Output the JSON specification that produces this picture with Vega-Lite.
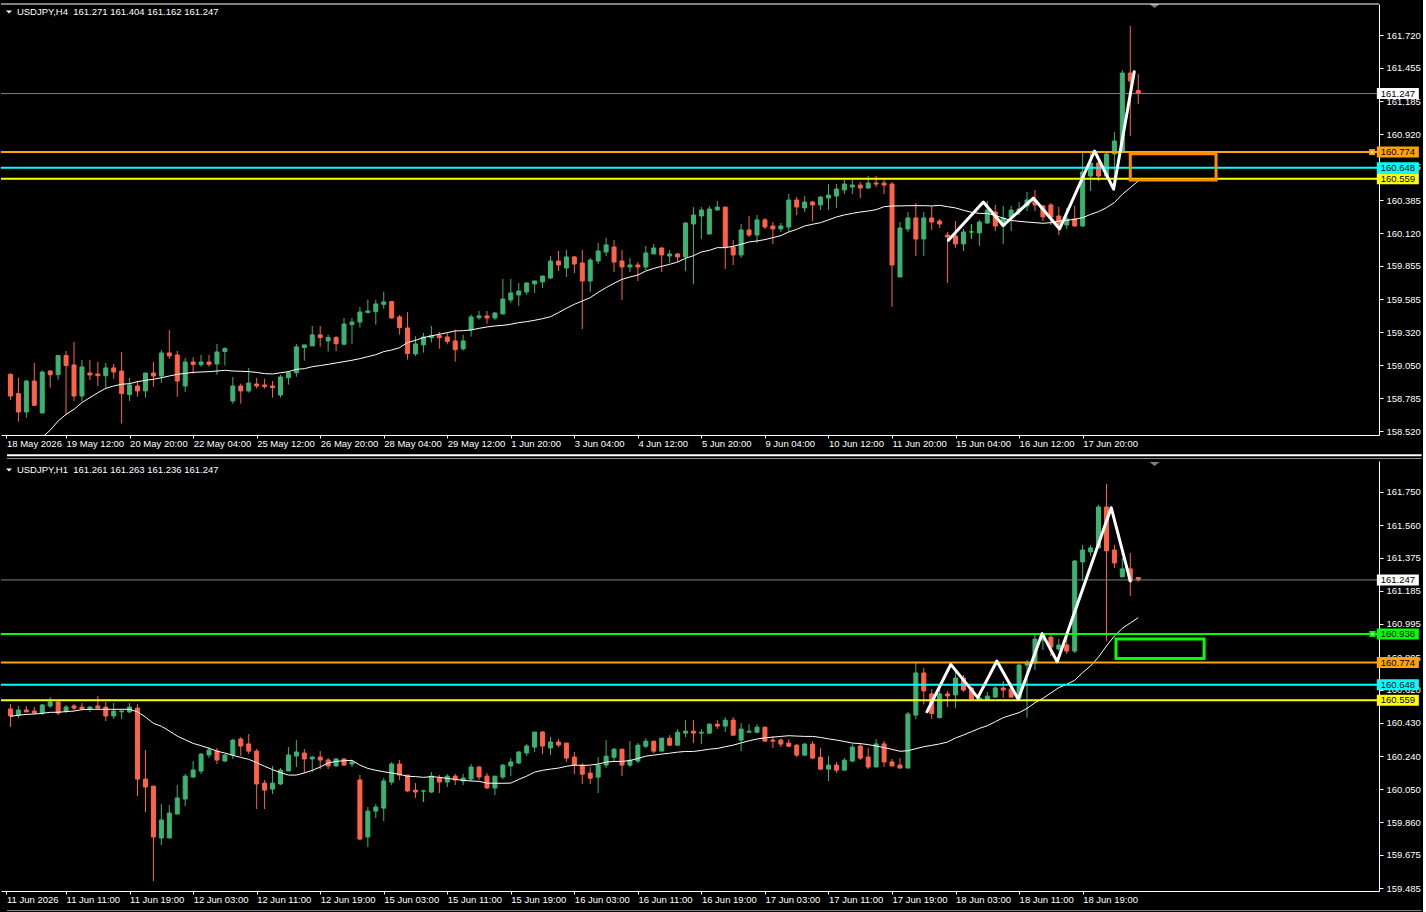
{
"$schema": "https://vega.github.io/schema/vega-lite/v6.json",
"background": "#000000",
"padding": {"left": 0, "top": 3, "right": 0, "bottom": 0},
"bounds": "flush",
"spacing": 26,
"config": {"view": {"stroke": null}, "font": "Liberation Sans", "axis": {"grid": false}},
"datasets": {
"h4": [
{"i":0,"o":158.978,"h":158.986,"l":158.771,"c":158.803},
{"i":1,"o":158.822,"h":158.951,"l":158.596,"c":158.674},
{"i":2,"o":158.674,"h":158.932,"l":158.628,"c":158.924},
{"i":3,"o":158.924,"h":159.070,"l":158.723,"c":158.728},
{"i":4,"o":158.666,"h":159.010,"l":158.666,"c":158.997,"m":158.47},
{"i":5,"o":159.005,"h":159.013,"l":158.871,"c":158.975,"m":158.526},
{"i":6,"o":158.975,"h":159.135,"l":158.935,"c":159.130,"m":158.601},
{"i":7,"o":159.130,"h":159.167,"l":158.655,"c":159.049,"m":158.655},
{"i":8,"o":159.054,"h":159.240,"l":158.763,"c":158.803,"m":158.696},
{"i":9,"o":158.803,"h":159.094,"l":158.763,"c":159.038,"m":158.750},
{"i":10,"o":158.989,"h":159.094,"l":158.932,"c":158.973,"m":158.790},
{"i":11,"o":158.981,"h":159.078,"l":158.884,"c":158.967,"m":158.830},
{"i":12,"o":158.967,"h":159.070,"l":158.863,"c":159.030,"m":158.865},
{"i":13,"o":159.030,"h":159.062,"l":158.943,"c":158.997,"m":158.884},
{"i":14,"o":159.005,"h":159.159,"l":158.580,"c":158.822,"m":158.898},
{"i":15,"o":158.814,"h":158.949,"l":158.763,"c":158.892,"m":158.903},
{"i":16,"o":158.884,"h":158.924,"l":158.798,"c":158.844,"m":158.919},
{"i":17,"o":158.844,"h":158.989,"l":158.790,"c":158.989,"m":158.930},
{"i":18,"o":158.989,"h":159.078,"l":158.879,"c":158.965,"m":158.938},
{"i":19,"o":158.965,"h":159.175,"l":158.911,"c":159.151,"m":158.951},
{"i":20,"o":159.151,"h":159.337,"l":159.103,"c":159.127,"m":158.965},
{"i":21,"o":159.135,"h":159.167,"l":158.798,"c":158.924,"m":158.978},
{"i":22,"o":158.884,"h":159.111,"l":158.836,"c":159.078,"m":158.986},
{"i":23,"o":159.078,"h":159.116,"l":158.984,"c":159.057,"m":158.994},
{"i":24,"o":159.057,"h":159.135,"l":159.040,"c":159.078,"m":158.997},
{"i":25,"o":159.078,"h":159.135,"l":159.040,"c":159.059,"m":159.000},
{"i":26,"o":159.062,"h":159.224,"l":158.975,"c":159.159,"m":159.005},
{"i":27,"o":159.162,"h":159.197,"l":159.049,"c":159.186,"m":159.011},
{"i":28,"o":158.763,"h":158.957,"l":158.741,"c":158.884,"m":159.005},
{"i":29,"o":158.884,"h":158.903,"l":158.741,"c":158.844,"m":159.003},
{"i":30,"o":158.844,"h":159.030,"l":158.830,"c":158.908,"m":159.000},
{"i":31,"o":158.900,"h":158.949,"l":158.863,"c":158.884,"m":158.994},
{"i":32,"o":158.892,"h":158.943,"l":158.863,"c":158.879,"m":158.984},
{"i":33,"o":158.884,"h":158.924,"l":158.790,"c":158.871,"m":158.981},
{"i":34,"o":158.811,"h":158.973,"l":158.790,"c":158.957,"m":158.991},
{"i":35,"o":158.951,"h":159.005,"l":158.895,"c":158.991,"m":159.000},
{"i":36,"o":158.991,"h":159.224,"l":158.959,"c":159.200,"m":159.019},
{"i":37,"o":159.194,"h":159.216,"l":159.089,"c":159.216,"m":159.024},
{"i":38,"o":159.208,"h":159.369,"l":159.208,"c":159.297,"m":159.040},
{"i":39,"o":159.297,"h":159.369,"l":159.202,"c":159.275,"m":159.049},
{"i":40,"o":159.248,"h":159.299,"l":159.162,"c":159.275,"m":159.059},
{"i":41,"o":159.275,"h":159.289,"l":159.167,"c":159.226,"m":159.070},
{"i":42,"o":159.221,"h":159.434,"l":159.221,"c":159.385,"m":159.081},
{"i":43,"o":159.380,"h":159.436,"l":159.224,"c":159.401,"m":159.092},
{"i":44,"o":159.401,"h":159.523,"l":159.356,"c":159.482,"m":159.105},
{"i":45,"o":159.477,"h":159.582,"l":159.477,"c":159.490,"m":159.121},
{"i":46,"o":159.485,"h":159.582,"l":159.380,"c":159.547,"m":159.137},
{"i":47,"o":159.544,"h":159.646,"l":159.509,"c":159.563,"m":159.162},
{"i":48,"o":159.566,"h":159.571,"l":159.428,"c":159.434,"m":159.175},
{"i":49,"o":159.442,"h":159.458,"l":159.299,"c":159.356,"m":159.194},
{"i":50,"o":159.353,"h":159.482,"l":159.097,"c":159.146,"m":159.235},
{"i":51,"o":159.143,"h":159.286,"l":159.127,"c":159.224,"m":159.253},
{"i":52,"o":159.216,"h":159.313,"l":159.154,"c":159.280,"m":159.275},
{"i":53,"o":159.275,"h":159.369,"l":159.235,"c":159.291,"m":159.289},
{"i":54,"o":159.291,"h":159.321,"l":159.186,"c":159.275,"m":159.302},
{"i":55,"o":159.280,"h":159.313,"l":159.221,"c":159.243,"m":159.315},
{"i":56,"o":159.248,"h":159.340,"l":159.081,"c":159.178,"m":159.329},
{"i":57,"o":159.184,"h":159.297,"l":159.170,"c":159.248,"m":159.331},
{"i":58,"o":159.337,"h":159.461,"l":159.283,"c":159.442,"m":159.337},
{"i":59,"o":159.436,"h":159.490,"l":159.420,"c":159.450,"m":159.350},
{"i":60,"o":159.450,"h":159.490,"l":159.388,"c":159.434,"m":159.361},
{"i":61,"o":159.434,"h":159.482,"l":159.418,"c":159.474,"m":159.369},
{"i":62,"o":159.466,"h":159.749,"l":159.466,"c":159.587,"m":159.374},
{"i":63,"o":159.579,"h":159.749,"l":159.555,"c":159.636,"m":159.383},
{"i":64,"o":159.620,"h":159.717,"l":159.531,"c":159.652,"m":159.396},
{"i":65,"o":159.644,"h":159.717,"l":159.620,"c":159.717,"m":159.404},
{"i":66,"o":159.709,"h":159.733,"l":159.636,"c":159.733,"m":159.415},
{"i":67,"o":159.725,"h":159.773,"l":159.676,"c":159.773,"m":159.428},
{"i":68,"o":159.757,"h":159.935,"l":159.749,"c":159.894,"m":159.444},
{"i":69,"o":159.894,"h":159.975,"l":159.813,"c":159.862,"m":159.477},
{"i":70,"o":159.838,"h":159.983,"l":159.765,"c":159.927,"m":159.512},
{"i":71,"o":159.927,"h":159.935,"l":159.797,"c":159.870,"m":159.544},
{"i":72,"o":159.878,"h":159.983,"l":159.345,"c":159.733,"m":159.571},
{"i":73,"o":159.733,"h":159.918,"l":159.644,"c":159.902,"m":159.598},
{"i":74,"o":159.894,"h":160.040,"l":159.870,"c":159.975,"m":159.641},
{"i":75,"o":159.967,"h":160.080,"l":159.935,"c":160.024,"m":159.679},
{"i":76,"o":160.007,"h":160.064,"l":159.805,"c":159.886,"m":159.714},
{"i":77,"o":159.894,"h":159.983,"l":159.579,"c":159.846,"m":159.746},
{"i":78,"o":159.846,"h":159.918,"l":159.805,"c":159.862,"m":159.765},
{"i":79,"o":159.862,"h":159.886,"l":159.733,"c":159.846,"m":159.781},
{"i":80,"o":159.846,"h":160.016,"l":159.821,"c":159.959,"m":159.813},
{"i":81,"o":159.951,"h":160.032,"l":159.951,"c":159.999,"m":159.835},
{"i":82,"o":159.999,"h":160.007,"l":159.805,"c":159.943,"m":159.851},
{"i":83,"o":159.935,"h":159.983,"l":159.878,"c":159.951,"m":159.867},
{"i":84,"o":159.951,"h":159.959,"l":159.886,"c":159.927,"m":159.886},
{"i":85,"o":159.927,"h":160.209,"l":159.813,"c":160.201,"m":159.916},
{"i":86,"o":160.193,"h":160.330,"l":159.709,"c":160.266,"m":159.937},
{"i":87,"o":160.258,"h":160.330,"l":160.072,"c":160.306,"m":159.967},
{"i":88,"o":160.112,"h":160.339,"l":160.112,"c":160.314,"m":159.980},
{"i":89,"o":160.306,"h":160.379,"l":160.306,"c":160.330,"m":160.002},
{"i":90,"o":160.330,"h":160.330,"l":159.830,"c":160.007,"m":160.002},
{"i":91,"o":160.007,"h":160.064,"l":159.862,"c":159.943,"m":160.013},
{"i":92,"o":159.943,"h":160.193,"l":159.918,"c":160.145,"m":160.029},
{"i":93,"o":160.145,"h":160.258,"l":160.088,"c":160.104,"m":160.048},
{"i":94,"o":160.104,"h":160.266,"l":160.040,"c":160.226,"m":160.056},
{"i":95,"o":160.226,"h":160.242,"l":160.153,"c":160.169,"m":160.067},
{"i":96,"o":160.177,"h":160.209,"l":160.032,"c":160.153,"m":160.083},
{"i":97,"o":160.153,"h":160.201,"l":160.129,"c":160.177,"m":160.099},
{"i":98,"o":160.169,"h":160.436,"l":160.129,"c":160.387,"m":160.129},
{"i":99,"o":160.387,"h":160.411,"l":160.266,"c":160.331,"m":160.150},
{"i":100,"o":160.323,"h":160.419,"l":160.290,"c":160.371,"m":160.177},
{"i":101,"o":160.371,"h":160.379,"l":160.217,"c":160.347,"m":160.191},
{"i":102,"o":160.347,"h":160.419,"l":160.306,"c":160.411,"m":160.204},
{"i":103,"o":160.403,"h":160.516,"l":160.306,"c":160.427,"m":160.226},
{"i":104,"o":160.419,"h":160.516,"l":160.323,"c":160.476,"m":160.250},
{"i":105,"o":160.468,"h":160.549,"l":160.436,"c":160.516,"m":160.266},
{"i":106,"o":160.492,"h":160.549,"l":160.436,"c":160.508,"m":160.279},
{"i":107,"o":160.508,"h":160.532,"l":160.403,"c":160.484,"m":160.290},
{"i":108,"o":160.484,"h":160.581,"l":160.476,"c":160.524,"m":160.298},
{"i":109,"o":160.524,"h":160.581,"l":160.492,"c":160.516,"m":160.309},
{"i":110,"o":160.524,"h":160.549,"l":160.436,"c":160.508,"m":160.333},
{"i":111,"o":160.516,"h":160.532,"l":159.523,"c":159.862,"m":160.339},
{"i":112,"o":159.765,"h":160.209,"l":159.765,"c":160.161,"m":160.339},
{"i":113,"o":160.153,"h":160.290,"l":160.129,"c":160.242,"m":160.341},
{"i":114,"o":160.242,"h":160.363,"l":159.935,"c":160.072,"m":160.341},
{"i":115,"o":160.072,"h":160.290,"l":159.935,"c":160.242,"m":160.341},
{"i":116,"o":160.242,"h":160.339,"l":160.145,"c":160.209,"m":160.339},
{"i":117,"o":160.217,"h":160.234,"l":160.161,"c":160.193,"m":160.344},
{"i":118,"o":160.104,"h":160.129,"l":159.717,"c":160.088,"m":160.333},
{"i":119,"o":160.096,"h":160.217,"l":160.000,"c":160.032,"m":160.323},
{"i":120,"o":160.032,"h":160.153,"l":159.975,"c":160.129,"m":160.304},
{"i":121,"o":160.129,"h":160.193,"l":160.072,"c":160.129,"m":160.288},
{"i":122,"o":160.121,"h":160.226,"l":160.016,"c":160.209,"m":160.279},
{"i":123,"o":160.201,"h":160.379,"l":160.193,"c":160.306,"m":160.279},
{"i":124,"o":160.290,"h":160.347,"l":160.137,"c":160.177,"m":160.262},
{"i":125,"o":160.177,"h":160.339,"l":160.032,"c":160.242,"m":160.240},
{"i":126,"o":160.250,"h":160.339,"l":160.137,"c":160.306,"m":160.222},
{"i":127,"o":160.298,"h":160.371,"l":160.266,"c":160.314,"m":160.215},
{"i":128,"o":160.339,"h":160.452,"l":160.298,"c":160.387,"m":160.209},
{"i":129,"o":160.387,"h":160.468,"l":160.298,"c":160.347,"m":160.204},
{"i":130,"o":160.339,"h":160.347,"l":160.217,"c":160.250,"m":160.199},
{"i":131,"o":160.347,"h":160.363,"l":160.185,"c":160.250,"m":160.204},
{"i":132,"o":160.258,"h":160.331,"l":160.104,"c":160.185,"m":160.217},
{"i":133,"o":160.185,"h":160.323,"l":160.153,"c":160.234,"m":160.223},
{"i":134,"o":160.234,"h":160.339,"l":160.169,"c":160.177,"m":160.231},
{"i":135,"o":160.177,"h":160.767,"l":160.169,"c":160.613,"m":160.244},
{"i":136,"o":160.581,"h":160.767,"l":160.460,"c":160.686,"m":160.271},
{"i":137,"o":160.686,"h":160.702,"l":160.541,"c":160.581,"m":160.293},
{"i":138,"o":160.581,"h":160.767,"l":160.573,"c":160.759,"m":160.325},
{"i":139,"o":160.759,"h":160.937,"l":160.460,"c":160.864,"m":160.366},
{"i":140,"o":160.783,"h":161.437,"l":160.783,"c":161.413,"m":160.433},
{"i":141,"o":161.413,"h":161.793,"l":160.904,"c":161.349,"m":160.487},
{"i":142,"o":161.271,"h":161.404,"l":161.162,"c":161.247,"m":160.541}
],
"h1": [
{"i":0,"o":160.509,"h":160.537,"l":160.406,"c":160.469,"m":160.467},
{"i":1,"o":160.474,"h":160.526,"l":160.457,"c":160.503,"m":160.473},
{"i":2,"o":160.503,"h":160.526,"l":160.492,"c":160.492,"m":160.478},
{"i":3,"o":160.497,"h":160.520,"l":160.480,"c":160.486,"m":160.480},
{"i":4,"o":160.486,"h":160.537,"l":160.474,"c":160.532,"m":160.484},
{"i":5,"o":160.526,"h":160.577,"l":160.514,"c":160.549,"m":160.490},
{"i":6,"o":160.549,"h":160.549,"l":160.474,"c":160.486,"m":160.490},
{"i":7,"o":160.497,"h":160.532,"l":160.486,"c":160.520,"m":160.494},
{"i":8,"o":160.526,"h":160.537,"l":160.503,"c":160.514,"m":160.497},
{"i":9,"o":160.520,"h":160.543,"l":160.503,"c":160.509,"m":160.505},
{"i":10,"o":160.509,"h":160.526,"l":160.492,"c":160.520,"m":160.507},
{"i":11,"o":160.526,"h":160.583,"l":160.509,"c":160.514,"m":160.507},
{"i":12,"o":160.520,"h":160.549,"l":160.440,"c":160.469,"m":160.507},
{"i":13,"o":160.469,"h":160.543,"l":160.452,"c":160.497,"m":160.507},
{"i":14,"o":160.493,"h":160.509,"l":160.452,"c":160.497,"m":160.507},
{"i":15,"o":160.492,"h":160.543,"l":160.486,"c":160.520,"m":160.507},
{"i":16,"o":160.514,"h":160.537,"l":160.011,"c":160.108,"m":160.492},
{"i":17,"o":160.108,"h":160.274,"l":159.920,"c":160.063,"m":160.463},
{"i":18,"o":160.068,"h":160.068,"l":159.525,"c":159.777,"m":160.427},
{"i":19,"o":159.771,"h":159.965,"l":159.731,"c":159.874,"m":160.410},
{"i":20,"o":159.771,"h":159.960,"l":159.771,"c":159.914,"m":160.383},
{"i":21,"o":159.908,"h":160.074,"l":159.908,"c":160.000,"m":160.354},
{"i":22,"o":159.994,"h":160.137,"l":159.954,"c":160.125,"m":160.333},
{"i":23,"o":160.120,"h":160.211,"l":160.114,"c":160.160,"m":160.312},
{"i":24,"o":160.154,"h":160.257,"l":160.137,"c":160.251,"m":160.299},
{"i":25,"o":160.246,"h":160.291,"l":160.228,"c":160.274,"m":160.284},
{"i":26,"o":160.268,"h":160.286,"l":160.194,"c":160.217,"m":160.268},
{"i":27,"o":160.211,"h":160.251,"l":160.206,"c":160.246,"m":160.257},
{"i":28,"o":160.246,"h":160.337,"l":160.223,"c":160.331,"m":160.244},
{"i":29,"o":160.337,"h":160.349,"l":160.240,"c":160.297,"m":160.232},
{"i":30,"o":160.309,"h":160.366,"l":160.251,"c":160.268,"m":160.221},
{"i":31,"o":160.268,"h":160.280,"l":159.937,"c":160.080,"m":160.202},
{"i":32,"o":160.085,"h":160.103,"l":159.937,"c":160.045,"m":160.181},
{"i":33,"o":160.051,"h":160.183,"l":160.023,"c":160.085,"m":160.162},
{"i":34,"o":160.080,"h":160.171,"l":160.074,"c":160.160,"m":160.145},
{"i":35,"o":160.154,"h":160.291,"l":160.154,"c":160.246,"m":160.131},
{"i":36,"o":160.240,"h":160.331,"l":160.177,"c":160.263,"m":160.131},
{"i":37,"o":160.257,"h":160.280,"l":160.143,"c":160.223,"m":160.143},
{"i":38,"o":160.223,"h":160.240,"l":160.148,"c":160.234,"m":160.158},
{"i":39,"o":160.234,"h":160.268,"l":160.165,"c":160.217,"m":160.177},
{"i":40,"o":160.217,"h":160.228,"l":160.165,"c":160.183,"m":160.200},
{"i":41,"o":160.183,"h":160.228,"l":160.177,"c":160.223,"m":160.209},
{"i":42,"o":160.223,"h":160.228,"l":160.183,"c":160.188,"m":160.213},
{"i":43,"o":160.194,"h":160.217,"l":160.177,"c":160.206,"m":160.215},
{"i":44,"o":160.103,"h":160.131,"l":159.759,"c":159.765,"m":160.188},
{"i":45,"o":159.777,"h":159.948,"l":159.719,"c":159.925,"m":160.169},
{"i":46,"o":159.925,"h":159.965,"l":159.885,"c":159.948,"m":160.158},
{"i":47,"o":159.942,"h":160.114,"l":159.868,"c":160.097,"m":160.150},
{"i":48,"o":160.091,"h":160.206,"l":160.074,"c":160.194,"m":160.143},
{"i":49,"o":160.194,"h":160.217,"l":160.103,"c":160.131,"m":160.135},
{"i":50,"o":160.131,"h":160.131,"l":160.034,"c":160.040,"m":160.124},
{"i":51,"o":160.045,"h":160.085,"l":160.000,"c":160.034,"m":160.122},
{"i":52,"o":160.040,"h":160.045,"l":159.977,"c":160.040,"m":160.118},
{"i":53,"o":160.034,"h":160.148,"l":160.028,"c":160.125,"m":160.122},
{"i":54,"o":160.114,"h":160.131,"l":160.028,"c":160.091,"m":160.118},
{"i":55,"o":160.091,"h":160.137,"l":160.063,"c":160.125,"m":160.112},
{"i":56,"o":160.125,"h":160.137,"l":160.074,"c":160.103,"m":160.106},
{"i":57,"o":160.097,"h":160.137,"l":160.074,"c":160.114,"m":160.101},
{"i":58,"o":160.108,"h":160.194,"l":160.097,"c":160.177,"m":160.097},
{"i":59,"o":160.177,"h":160.183,"l":160.103,"c":160.120,"m":160.095},
{"i":60,"o":160.125,"h":160.143,"l":160.051,"c":160.057,"m":160.085},
{"i":61,"o":160.057,"h":160.125,"l":160.017,"c":160.125,"m":160.084},
{"i":62,"o":160.120,"h":160.194,"l":160.108,"c":160.188,"m":160.084},
{"i":63,"o":160.183,"h":160.228,"l":160.125,"c":160.206,"m":160.085},
{"i":64,"o":160.200,"h":160.268,"l":160.194,"c":160.263,"m":160.106},
{"i":65,"o":160.257,"h":160.309,"l":160.240,"c":160.297,"m":160.125},
{"i":66,"o":160.291,"h":160.377,"l":160.263,"c":160.377,"m":160.148},
{"i":67,"o":160.377,"h":160.383,"l":160.251,"c":160.297,"m":160.158},
{"i":68,"o":160.286,"h":160.349,"l":160.246,"c":160.320,"m":160.165},
{"i":69,"o":160.320,"h":160.337,"l":160.291,"c":160.303,"m":160.171},
{"i":70,"o":160.314,"h":160.314,"l":160.206,"c":160.228,"m":160.181},
{"i":71,"o":160.234,"h":160.263,"l":160.137,"c":160.188,"m":160.188},
{"i":72,"o":160.188,"h":160.199,"l":160.079,"c":160.136,"m":160.186},
{"i":73,"o":160.142,"h":160.176,"l":160.079,"c":160.113,"m":160.188},
{"i":74,"o":160.119,"h":160.233,"l":160.028,"c":160.188,"m":160.194},
{"i":75,"o":160.188,"h":160.331,"l":160.171,"c":160.239,"m":160.205},
{"i":76,"o":160.233,"h":160.285,"l":160.211,"c":160.279,"m":160.209},
{"i":77,"o":160.279,"h":160.279,"l":160.125,"c":160.188,"m":160.209},
{"i":78,"o":160.188,"h":160.325,"l":160.176,"c":160.216,"m":160.214},
{"i":79,"o":160.211,"h":160.314,"l":160.199,"c":160.302,"m":160.226},
{"i":80,"o":160.296,"h":160.342,"l":160.285,"c":160.325,"m":160.239},
{"i":81,"o":160.325,"h":160.325,"l":160.256,"c":160.268,"m":160.245},
{"i":82,"o":160.268,"h":160.342,"l":160.268,"c":160.342,"m":160.251},
{"i":83,"o":160.342,"h":160.359,"l":160.296,"c":160.302,"m":160.256},
{"i":84,"o":160.302,"h":160.394,"l":160.296,"c":160.376,"m":160.262},
{"i":85,"o":160.371,"h":160.445,"l":160.348,"c":160.382,"m":160.266},
{"i":86,"o":160.382,"h":160.445,"l":160.314,"c":160.371,"m":160.266},
{"i":87,"o":160.371,"h":160.394,"l":160.308,"c":160.376,"m":160.272},
{"i":88,"o":160.371,"h":160.428,"l":160.365,"c":160.422,"m":160.279},
{"i":89,"o":160.422,"h":160.445,"l":160.394,"c":160.411,"m":160.283},
{"i":90,"o":160.411,"h":160.462,"l":160.376,"c":160.445,"m":160.293},
{"i":91,"o":160.445,"h":160.462,"l":160.359,"c":160.359,"m":160.302},
{"i":92,"o":160.331,"h":160.428,"l":160.268,"c":160.394,"m":160.315},
{"i":93,"o":160.376,"h":160.422,"l":160.376,"c":160.382,"m":160.327},
{"i":94,"o":160.376,"h":160.422,"l":160.371,"c":160.405,"m":160.337},
{"i":95,"o":160.405,"h":160.405,"l":160.325,"c":160.325,"m":160.344},
{"i":96,"o":160.331,"h":160.354,"l":160.285,"c":160.325,"m":160.348},
{"i":97,"o":160.331,"h":160.342,"l":160.291,"c":160.308,"m":160.352},
{"i":98,"o":160.314,"h":160.336,"l":160.291,"c":160.296,"m":160.356},
{"i":99,"o":160.302,"h":160.308,"l":160.233,"c":160.245,"m":160.354},
{"i":100,"o":160.245,"h":160.314,"l":160.239,"c":160.308,"m":160.352},
{"i":101,"o":160.308,"h":160.325,"l":160.222,"c":160.228,"m":160.352},
{"i":102,"o":160.233,"h":160.285,"l":160.159,"c":160.165,"m":160.346},
{"i":103,"o":160.165,"h":160.239,"l":160.096,"c":160.188,"m":160.338},
{"i":104,"o":160.188,"h":160.205,"l":160.142,"c":160.159,"m":160.331},
{"i":105,"o":160.159,"h":160.228,"l":160.159,"c":160.216,"m":160.323},
{"i":106,"o":160.211,"h":160.308,"l":160.205,"c":160.291,"m":160.314},
{"i":107,"o":160.297,"h":160.314,"l":160.217,"c":160.228,"m":160.311},
{"i":108,"o":160.234,"h":160.286,"l":160.166,"c":160.177,"m":160.305},
{"i":109,"o":160.177,"h":160.337,"l":160.177,"c":160.309,"m":160.297},
{"i":110,"o":160.309,"h":160.326,"l":160.177,"c":160.206,"m":160.288},
{"i":111,"o":160.206,"h":160.223,"l":160.183,"c":160.183,"m":160.278},
{"i":112,"o":160.188,"h":160.228,"l":160.171,"c":160.171,"m":160.267},
{"i":113,"o":160.171,"h":160.492,"l":160.171,"c":160.480,"m":160.270},
{"i":114,"o":160.474,"h":160.779,"l":160.451,"c":160.715,"m":160.282},
{"i":115,"o":160.715,"h":160.743,"l":160.535,"c":160.612,"m":160.293},
{"i":116,"o":160.595,"h":160.623,"l":160.452,"c":160.483,"m":160.301},
{"i":117,"o":160.459,"h":160.635,"l":160.459,"c":160.595,"m":160.309},
{"i":118,"o":160.595,"h":160.612,"l":160.520,"c":160.583,"m":160.320},
{"i":119,"o":160.589,"h":160.732,"l":160.514,"c":160.686,"m":160.343},
{"i":120,"o":160.686,"h":160.703,"l":160.606,"c":160.617,"m":160.360},
{"i":121,"o":160.629,"h":160.635,"l":160.554,"c":160.566,"m":160.379},
{"i":122,"o":160.560,"h":160.583,"l":160.554,"c":160.572,"m":160.398},
{"i":123,"o":160.560,"h":160.606,"l":160.554,"c":160.583,"m":160.413},
{"i":124,"o":160.577,"h":160.640,"l":160.572,"c":160.629,"m":160.436},
{"i":125,"o":160.629,"h":160.669,"l":160.572,"c":160.617,"m":160.459},
{"i":126,"o":160.623,"h":160.657,"l":160.572,"c":160.577,"m":160.474},
{"i":127,"o":160.572,"h":160.766,"l":160.572,"c":160.760,"m":160.488},
{"i":128,"o":160.760,"h":160.789,"l":160.459,"c":160.772,"m":160.512},
{"i":129,"o":160.772,"h":160.932,"l":160.732,"c":160.909,"m":160.545},
{"i":130,"o":160.903,"h":160.943,"l":160.846,"c":160.932,"m":160.570},
{"i":131,"o":160.920,"h":160.932,"l":160.812,"c":160.863,"m":160.600},
{"i":132,"o":160.852,"h":160.909,"l":160.840,"c":160.875,"m":160.631},
{"i":133,"o":160.875,"h":160.943,"l":160.823,"c":160.840,"m":160.650},
{"i":134,"o":160.840,"h":161.361,"l":160.829,"c":161.355,"m":160.673},
{"i":135,"o":161.350,"h":161.447,"l":161.241,"c":161.418,"m":160.717},
{"i":136,"o":161.407,"h":161.447,"l":161.384,"c":161.430,"m":160.755},
{"i":137,"o":161.430,"h":161.676,"l":161.430,"c":161.664,"m":160.806},
{"i":138,"o":161.664,"h":161.796,"l":160.898,"c":161.413,"m":160.869},
{"i":139,"o":161.418,"h":161.447,"l":161.315,"c":161.344,"m":160.926},
{"i":140,"o":161.264,"h":161.372,"l":161.264,"c":161.310,"m":160.970},
{"i":141,"o":161.310,"h":161.401,"l":161.155,"c":161.241,"m":161.001},
{"i":142,"o":161.261,"h":161.263,"l":161.236,"c":161.247,"m":161.031}
],
"zz4": [
{"k":118.1,"p":160.061},{"k":122.5,"p":160.371},{"k":125.0,"p":160.181},{"k":128.8,"p":160.403},
{"k":132.1,"p":160.153},{"k":136.5,"p":160.783},{"k":138.9,"p":160.476},{"k":141.5,"p":161.424}
],
"zz1": [
{"k":115.4,"p":160.493},{"k":118.4,"p":160.764},{"k":121.8,"p":160.574},{"k":124.2,"p":160.783},
{"k":126.9,"p":160.564},{"k":129.9,"p":160.940},{"k":131.8,"p":160.779},{"k":138.6,"p":161.660},{"k":141.0,"p":161.241}
],
"lv4": [
{"p":161.247,"lv":"bid"},{"p":160.774,"lv":"orange"},{"p":160.648,"lv":"cyan"},{"p":160.559,"lv":"yellow"}
],
"lv1": [
{"p":161.247,"lv":"bid"},{"p":160.938,"lv":"green"},{"p":160.774,"lv":"orange"},{"p":160.648,"lv":"cyan"},{"p":160.559,"lv":"yellow"}
]
},
"vconcat": [
{
"width": 1378, "height": 431,
"data": {"name": "h4"},
"layer": [
{"mark": {"type": "rule", "strokeWidth": 1, "clip": true},
 "encoding": {
  "x": {"field": "i", "type": "quantitative", "scale": {"domain": [-0.5625, 171.6875], "nice": false, "zero": false},
   "axis": {"values": [-0.5,7,15,23,31,39,47,55,63,71,79,87,95,103,111,119,127,135], "tickCount": 40,
    "labelExpr": "datum.value < 0 ? '18 May 2026' : ['19 May 12:00','20 May 20:00','22 May 04:00','25 May 12:00','26 May 20:00','28 May 04:00','29 May 12:00','1 Jun 20:00','3 Jun 04:00','4 Jun 12:00','5 Jun 20:00','9 Jun 04:00','10 Jun 12:00','11 Jun 20:00','15 Jun 04:00','16 Jun 12:00','17 Jun 20:00'][(datum.value-7)/8]",
    "title": null, "grid": false, "domainColor": "#ffffff", "tickColor": "#ffffff", "tickSize": 3, "labelPadding": 0,
    "labelColor": "#ffffff", "labelFont": "Liberation Sans", "labelFontSize": 9.5, "labelAlign": "left", "labelBaseline": "top",
    "labelFlush": false, "labelOverlap": false, "labelBound": false}},
  "y": {"field": "l", "type": "quantitative", "scale": {"domain": [158.488, 161.971], "nice": false, "zero": false},
   "axis": {"orient": "right", "values": [161.72,161.455,161.185,160.92,160.655,160.385,160.12,159.855,159.585,159.32,159.05,158.785,158.52], "tickCount": 30,
    "format": ".3f", "title": null, "grid": false, "domainColor": "#ffffff", "tickColor": "#ffffff", "tickSize": 4, "labelPadding": 3,
    "labelColor": "#ffffff", "labelFont": "Liberation Sans", "labelFontSize": 9.5, "labelOverlap": false, "labelBound": false, "labelFlush": false}},
  "y2": {"field": "h"},
  "color": {"condition": [{"test": "datum.c > datum.o", "value": "#3cb371"}, {"test": "datum.c == datum.o", "value": "#00ff00"}], "value": "#ff6347"}
 }},
{"mark": {"type": "bar", "size": 4, "strokeWidth": 1, "clip": true},
 "encoding": {
  "x": {"field": "i", "type": "quantitative", "title": null},
  "y": {"field": "o", "type": "quantitative", "title": null},
  "y2": {"field": "c"},
  "fill": {"condition": [{"test": "datum.c > datum.o", "value": "#3cb371"}, {"test": "datum.c == datum.o", "value": "#00ff00"}], "value": "#ff6347"},
  "stroke": {"condition": [{"test": "datum.c > datum.o", "value": "#3cb371"}, {"test": "datum.c == datum.o", "value": "#00ff00"}], "value": "#ff6347"}
 }},
{"mark": {"type": "line", "color": "#ffffff", "strokeWidth": 1, "clip": true},
 "encoding": {"x": {"field": "i", "type": "quantitative", "title": null}, "y": {"field": "m", "type": "quantitative", "title": null}}},
{"data": {"name": "lv4"},
 "mark": {"type": "rule", "clip": true},
 "encoding": {
  "y": {"field": "p", "type": "quantitative", "title": null},
  "color": {"field": "lv", "type": "nominal", "legend": null, "scale": {"domain": ["bid","green","orange","cyan","yellow"], "range": ["#808080","#00ff00","#ffa500","#00ffff","#ffff00"]}},
  "strokeWidth": {"condition": {"test": "datum.lv === 'bid'", "value": 1}, "value": 2}
 }},
{"data": {"name": "zz4"},
 "mark": {"type": "line", "color": "#ffffff", "strokeWidth": 3, "strokeCap": "round", "strokeJoin": "round", "clip": true},
 "encoding": {"x": {"field": "k", "type": "quantitative", "title": null}, "y": {"field": "p", "type": "quantitative", "title": null}}},
{"data": {"values": [{"k1": 141.0, "k2": 151.8, "p1": 160.549, "p2": 160.761}]},
 "mark": {"type": "rect", "fill": "transparent", "stroke": "#ff8c00", "strokeWidth": 3},
 "encoding": {"x": {"field": "k1", "type": "quantitative", "title": null}, "x2": {"field": "k2"}, "y": {"field": "p1", "type": "quantitative", "title": null}, "y2": {"field": "p2"}}},
{"data": {"values": [{}]},
 "mark": {"type": "point", "shape": "square", "filled": true, "opacity": 1, "size": 36, "color": "#ffa500"},
 "encoding": {"x": {"datum": 171.45}, "y": {"datum": 160.774}}},
{"data": {"values": [{}]},
 "mark": {"type": "point", "shape": "square", "filled": true, "opacity": 1, "size": 4, "color": "#ffffff"},
 "encoding": {"x": {"datum": 171.45}, "y": {"datum": 160.774}}},
{"data": {"name": "lv4"},
 "mark": {"type": "point", "shape": "M-1,-0.262H1V0.262H-1Z", "filled": true, "opacity": 1, "strokeWidth": 0, "size": 1764},
 "encoding": {
  "x": {"datum": 174.69},
  "y": {"field": "p", "type": "quantitative", "title": null},
  "fill": {"field": "lv", "type": "nominal", "legend": null, "scale": {"domain": ["bid","green","orange","cyan","yellow"], "range": ["#ffffff","#00ff00","#ffa500","#00ffff","#ffff00"]}}
 }},
{"data": {"name": "lv4"},
 "mark": {"type": "text", "color": "#000000", "font": "Liberation Sans", "fontSize": 9.5, "align": "center", "baseline": "middle"},
 "encoding": {"x": {"datum": 174.69}, "y": {"field": "p", "type": "quantitative", "title": null}, "text": {"field": "p", "type": "quantitative", "format": ".3f"}}},
{"data": {"values": [{"t": "USDJPY,H4\u00a0\u00a0161.271 161.404 161.162 161.247"}]},
 "mark": {"type": "text", "color": "#ffffff", "font": "Liberation Sans", "fontSize": 9.5, "align": "left", "baseline": "middle"},
 "encoding": {"x": {"datum": 0.8125}, "y": {"datum": 161.906}, "text": {"field": "t", "type": "nominal"}}},
{"data": {"values": [{}]},
 "mark": {"type": "point", "shape": "M-1,-0.5H1L0,0.5Z", "filled": true, "opacity": 1, "size": 36, "color": "#ffffff"},
 "encoding": {"x": {"datum": -0.1875}, "y": {"datum": 161.906}}},
{"data": {"values": [{}]},
 "mark": {"type": "point", "shape": "M-1,-0.4H1L0,0.4Z", "filled": true, "opacity": 1, "size": 100, "color": "#808080"},
 "encoding": {"x": {"datum": 144.06}, "y": {"datum": 161.955}}},
{"data": {"values": [{}]},
 "mark": {"type": "rule", "color": "#ffffff", "strokeWidth": 1},
 "encoding": {"y": {"datum": 161.971}}},
{"data": {"values": [{}]},
 "mark": {"type": "rule", "color": "#ffffff", "strokeWidth": 2},
 "encoding": {"x": {"datum": -0.4375}, "x2": {"datum": 177.69}, "y": {"datum": 158.324}}},
{"data": {"values": [{}]},
 "mark": {"type": "rule", "color": "#8c8c8c", "strokeWidth": 1},
 "encoding": {"x": {"datum": -0.4375}, "x2": {"datum": 177.69}, "y": {"datum": 158.298}}}
]
},
{
"width": 1378, "height": 430,
"data": {"name": "h1"},
"layer": [
{"mark": {"type": "rule", "strokeWidth": 1, "clip": true},
 "encoding": {
  "x": {"field": "i", "type": "quantitative", "scale": {"domain": [-0.5625, 171.6875], "nice": false, "zero": false},
   "axis": {"values": [-0.5,7,15,23,31,39,47,55,63,71,79,87,95,103,111,119,127,135], "tickCount": 40,
    "labelExpr": "datum.value < 0 ? '11 Jun 2026' : ['11 Jun 11:00','11 Jun 19:00','12 Jun 03:00','12 Jun 11:00','12 Jun 19:00','15 Jun 03:00','15 Jun 11:00','15 Jun 19:00','16 Jun 03:00','16 Jun 11:00','16 Jun 19:00','17 Jun 03:00','17 Jun 11:00','17 Jun 19:00','18 Jun 03:00','18 Jun 11:00','18 Jun 19:00'][(datum.value-7)/8]",
    "title": null, "grid": false, "domainColor": "#ffffff", "tickColor": "#ffffff", "tickSize": 3, "labelPadding": 0,
    "labelColor": "#ffffff", "labelFont": "Liberation Sans", "labelFontSize": 9.5, "labelAlign": "left", "labelBaseline": "top",
    "labelFlush": false, "labelOverlap": false, "labelBound": false}},
  "y": {"field": "l", "type": "quantitative", "scale": {"domain": [159.468, 161.927], "nice": false, "zero": false},
   "axis": {"orient": "right", "values": [161.75,161.56,161.375,161.185,160.995,160.805,160.62,160.43,160.24,160.05,159.86,159.675,159.485], "tickCount": 30,
    "format": ".3f", "title": null, "grid": false, "domainColor": "#ffffff", "tickColor": "#ffffff", "tickSize": 4, "labelPadding": 3,
    "labelColor": "#ffffff", "labelFont": "Liberation Sans", "labelFontSize": 9.5, "labelOverlap": false, "labelBound": false, "labelFlush": false}},
  "y2": {"field": "h"},
  "color": {"condition": [{"test": "datum.c > datum.o", "value": "#3cb371"}, {"test": "datum.c == datum.o", "value": "#00ff00"}], "value": "#ff6347"}
 }},
{"mark": {"type": "bar", "size": 4, "strokeWidth": 1, "clip": true},
 "encoding": {
  "x": {"field": "i", "type": "quantitative", "title": null},
  "y": {"field": "o", "type": "quantitative", "title": null},
  "y2": {"field": "c"},
  "fill": {"condition": [{"test": "datum.c > datum.o", "value": "#3cb371"}, {"test": "datum.c == datum.o", "value": "#00ff00"}], "value": "#ff6347"},
  "stroke": {"condition": [{"test": "datum.c > datum.o", "value": "#3cb371"}, {"test": "datum.c == datum.o", "value": "#00ff00"}], "value": "#ff6347"}
 }},
{"mark": {"type": "line", "color": "#ffffff", "strokeWidth": 1, "clip": true},
 "encoding": {"x": {"field": "i", "type": "quantitative", "title": null}, "y": {"field": "m", "type": "quantitative", "title": null}}},
{"data": {"name": "lv1"},
 "mark": {"type": "rule", "clip": true},
 "encoding": {
  "y": {"field": "p", "type": "quantitative", "title": null},
  "color": {"field": "lv", "type": "nominal", "legend": null, "scale": {"domain": ["bid","green","orange","cyan","yellow"], "range": ["#808080","#00ff00","#ffa500","#00ffff","#ffff00"]}},
  "strokeWidth": {"condition": {"test": "datum.lv === 'bid'", "value": 1}, "value": 2}
 }},
{"data": {"name": "zz1"},
 "mark": {"type": "line", "color": "#ffffff", "strokeWidth": 3, "strokeCap": "round", "strokeJoin": "round", "clip": true},
 "encoding": {"x": {"field": "k", "type": "quantitative", "title": null}, "y": {"field": "p", "type": "quantitative", "title": null}}},
{"data": {"values": [{"k1": 139.2, "k2": 150.3, "p1": 160.797, "p2": 160.909}]},
 "mark": {"type": "rect", "fill": "transparent", "stroke": "#00ff00", "strokeWidth": 3},
 "encoding": {"x": {"field": "k1", "type": "quantitative", "title": null}, "x2": {"field": "k2"}, "y": {"field": "p1", "type": "quantitative", "title": null}, "y2": {"field": "p2"}}},
{"data": {"values": [{}]},
 "mark": {"type": "point", "shape": "square", "filled": true, "opacity": 1, "size": 36, "color": "#00ff00"},
 "encoding": {"x": {"datum": 171.5}, "y": {"datum": 160.938}}},
{"data": {"values": [{}]},
 "mark": {"type": "point", "shape": "square", "filled": true, "opacity": 1, "size": 4, "color": "#ffffff"},
 "encoding": {"x": {"datum": 171.5}, "y": {"datum": 160.938}}},
{"data": {"name": "lv1"},
 "mark": {"type": "point", "shape": "M-1,-0.262H1V0.262H-1Z", "filled": true, "opacity": 1, "strokeWidth": 0, "size": 1764},
 "encoding": {
  "x": {"datum": 174.69},
  "y": {"field": "p", "type": "quantitative", "title": null},
  "fill": {"field": "lv", "type": "nominal", "legend": null, "scale": {"domain": ["bid","green","orange","cyan","yellow"], "range": ["#ffffff","#00ff00","#ffa500","#00ffff","#ffff00"]}}
 }},
{"data": {"name": "lv1"},
 "mark": {"type": "text", "color": "#000000", "font": "Liberation Sans", "fontSize": 9.5, "align": "center", "baseline": "middle"},
 "encoding": {"x": {"datum": 174.69}, "y": {"field": "p", "type": "quantitative", "title": null}, "text": {"field": "p", "type": "quantitative", "format": ".3f"}}},
{"data": {"values": [{"t": "USDJPY,H1\u00a0\u00a0161.261 161.263 161.236 161.247"}]},
 "mark": {"type": "text", "color": "#ffffff", "font": "Liberation Sans", "fontSize": 9.5, "align": "left", "baseline": "middle"},
 "encoding": {"x": {"datum": 0.8125}, "y": {"datum": 161.876}, "text": {"field": "t", "type": "nominal"}}},
{"data": {"values": [{}]},
 "mark": {"type": "point", "shape": "M-1,-0.5H1L0,0.5Z", "filled": true, "opacity": 1, "size": 36, "color": "#ffffff"},
 "encoding": {"x": {"datum": -0.1875}, "y": {"datum": 161.876}}},
{"data": {"values": [{}]},
 "mark": {"type": "point", "shape": "M-1,-0.4H1L0,0.4Z", "filled": true, "opacity": 1, "size": 100, "color": "#808080"},
 "encoding": {"x": {"datum": 144.06}, "y": {"datum": 161.910}}},
{"data": {"values": [{}]},
 "mark": {"type": "rule", "color": "#8c8c8c", "strokeWidth": 1},
 "encoding": {"x": {"datum": -0.4375}, "x2": {"datum": 177.69}, "y": {"datum": 159.356}}}
]
}
]
}
